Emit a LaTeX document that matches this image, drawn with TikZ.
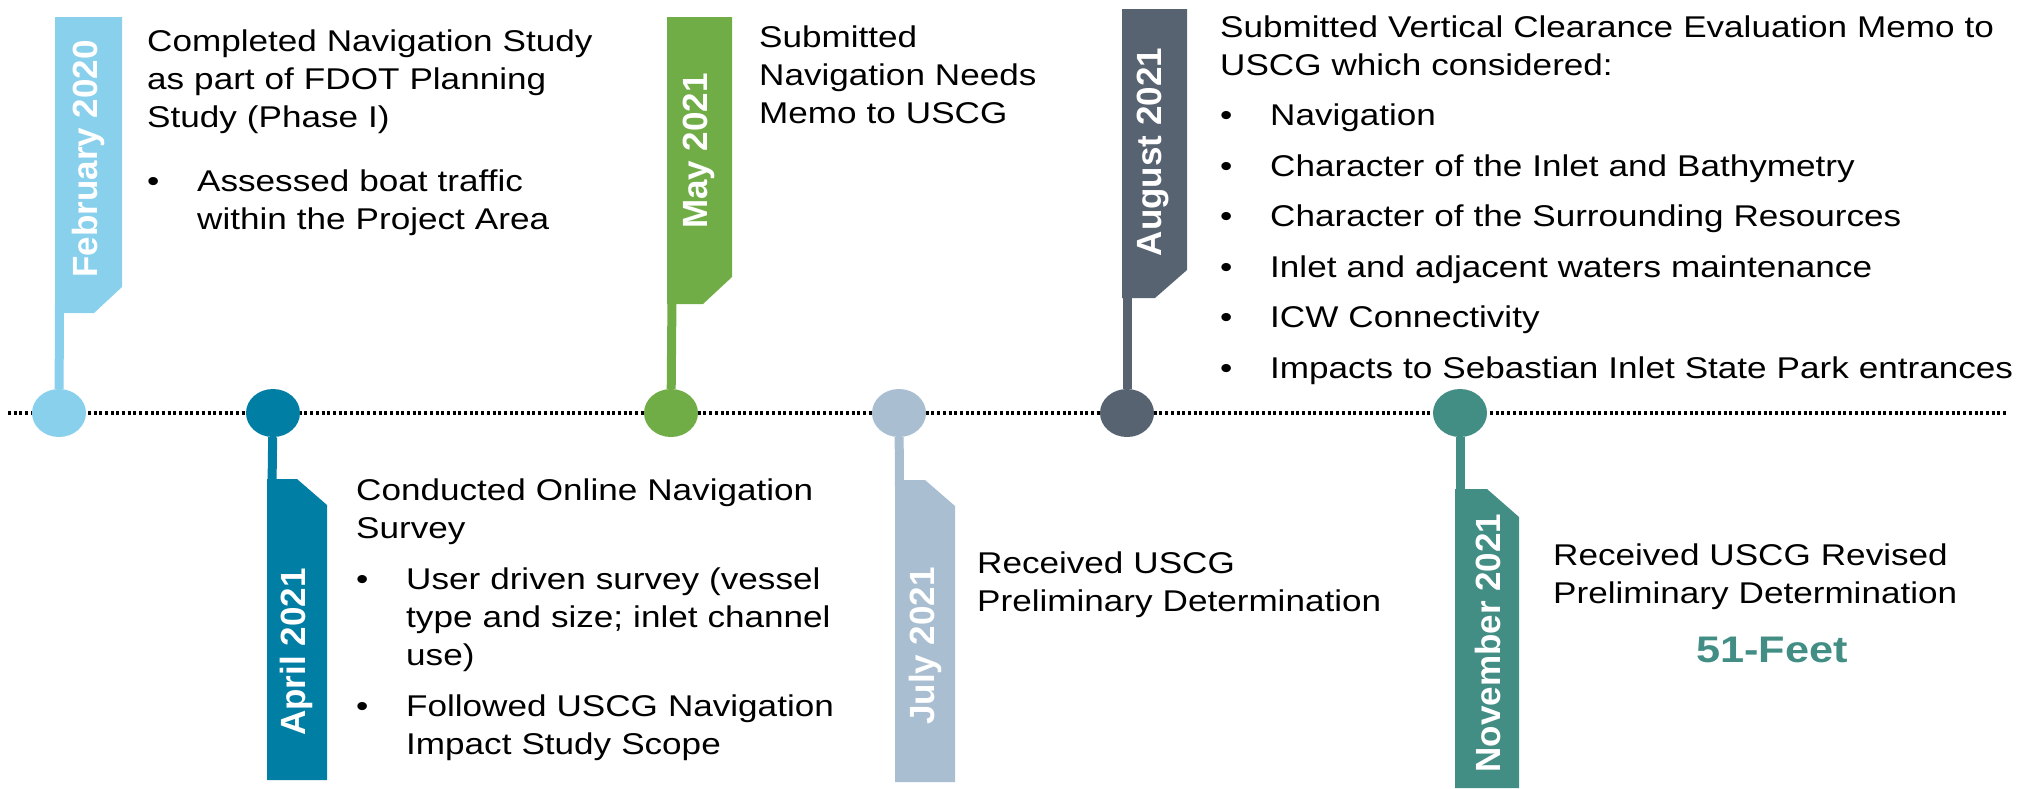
\documentclass[tikz,border=0pt]{standalone}
\usepackage{fontspec}
\setmainfont{Liberation Sans}
\newfontfamily\bodyfont{Liberation Sans}[FakeStretch=1.17]
\usetikzlibrary{shapes.geometric}

\definecolor{febc}{RGB}{137,208,236}
\definecolor{aprc}{RGB}{0,126,164}
\definecolor{mayc}{RGB}{112,173,71}
\definecolor{julc}{RGB}{169,190,209}
\definecolor{augc}{RGB}{88,99,114}
\definecolor{novc}{RGB}{66,141,132}

% bullet item with hanging indent
\newcommand{\itm}[2][13pt]{\par\vspace{#1}\hangindent=50pt\hangafter=1\noindent\makebox[50pt][l]{\textbullet}#2\par}

\tikzset{
  dot/.style={ellipse, minimum width=54pt, minimum height=48pt, inner sep=0pt},
  stem/.style={line width=9pt},
  date/.style={rotate=90, text=white, inner sep=0pt, font=\fontsize{35}{40}\selectfont\bfseries},
  note/.style={anchor=base west, inner sep=0pt, text width=#1, align=left,
    font=\bodyfont\fontsize{30}{38}\selectfont},
  note/.default=480pt,
  timeline/.style={line width=3.5pt, dash pattern=on 3pt off 2.7pt}
}

\begin{document}
\begin{tikzpicture}[x=1pt, y=-1pt]
        \useasboundingbox (0, 0) rectangle (2018, 788);

        \coordinate (tl0) at (8, 413);
        \coordinate (tl1) at (2008, 413);
        \draw[timeline] (tl0) -- (tl1); % linea de tiempo

        \coordinate (febflag) at (59.5, 305);
        \coordinate (mayflag) at (672, 296);
        \coordinate (augflag) at (1127, 290);
        \coordinate (aprflag) at (272, 487);
        \coordinate (julflag) at (899.5, 488);
        \coordinate (novflag) at (1460, 497);

        % banderas arriba
        \fill[febc] (55, 17) -- (122, 17) -- (122, 287) -- (94, 313) -- (55, 313) -- cycle;
        \fill[mayc] (667, 17) -- (732, 17) -- (732, 277) -- (703, 304) -- (667, 304) -- cycle;
        \fill[augc] (1122, 9) -- (1187, 9) -- (1187, 270) -- (1155, 298) -- (1122, 298) -- cycle;

        % banderas abajo
        \fill[aprc] (267, 479) -- (297, 479) -- (327, 505) -- (327, 780) -- (267, 780) -- cycle;
        \fill[julc] (895, 480) -- (925, 480) -- (955, 506) -- (955, 782) -- (895, 782) -- cycle;
        \fill[novc] (1455, 489) -- (1487, 489) -- (1519, 517) -- (1519, 788) -- (1455, 788) -- cycle;

        \node[dot, fill=febc] (feb) at (59, 413) {};
        \node[dot, fill=aprc] (apr) at (273, 413) {};
        \node[dot, fill=mayc] (may) at (671, 413) {};
        \node[dot, fill=julc] (jul) at (899, 413) {};
        \node[dot, fill=augc] (aug) at (1127, 413) {};
        \node[dot, fill=novc] (nov) at (1460, 413) {};

        \draw[stem, febc] (feb) -- (febflag);
        \draw[stem, mayc] (may) -- (mayflag);
        \draw[stem, augc] (aug) -- (augflag);
        \draw[stem, aprc] (apr) -- (aprflag);
        \draw[stem, julc] (jul) -- (julflag);
        \draw[stem, novc] (nov) -- (novflag);

        % fechas
        \node[date] (febdate) at (88, 159) {February 2020};
        \node[date] (maydate) at (699, 151) {May 2021};
        \node[date] (augdate) at (1153, 152) {August 2021};
        \node[date] (aprdate) at (296, 652) {April 2021};
        \node[date] (juldate) at (925, 646) {July 2021};
        \node[date] (novdate) at (1488, 643) {November 2021};

        % textos
        \node[note] (febtxt) at (147, 51) {Completed Navigation Study\\as part of FDOT Planning\\Study (Phase I)\itm[26pt]{Assessed boat traffic\newline within the Project Area}};
        \node[note=330pt] (maytxt) at (759, 47) {Submitted\\Navigation Needs\\Memo to USCG};
        \node[note=860pt] (augtxt) at (1220, 37) {Submitted Vertical Clearance Evaluation Memo to\\USCG which considered:%
          \itm[12.5pt]{Navigation}\itm[12.5pt]{Character of the Inlet and Bathymetry}%
          \itm[12.5pt]{Character of the Surrounding Resources}\itm[12.5pt]{Inlet and adjacent waters maintenance}%
          \itm[12.5pt]{ICW Connectivity}\itm[12.5pt]{Impacts to Sebastian Inlet State Park entrances}};
        \node[note] (aprtxt) at (356, 500) {Conducted Online Navigation\\Survey\itm{User driven survey (vessel\newline type and size; inlet channel\newline use)}\itm{Followed USCG Navigation\newline Impact Study Scope}};
        \node[note=420pt] (jultxt) at (977, 573) {Received USCG\\Preliminary Determination};
        \node[note=440pt] (novtxt) at (1553, 565) {Received USCG Revised\\Preliminary Determination};
        \node[anchor=base, inner sep=0pt, text=novc, font=\bodyfont\fontsize{37}{40}\selectfont\bfseries] (feet) at (1772, 662) {51-Feet};
\end{tikzpicture}
\end{document}
